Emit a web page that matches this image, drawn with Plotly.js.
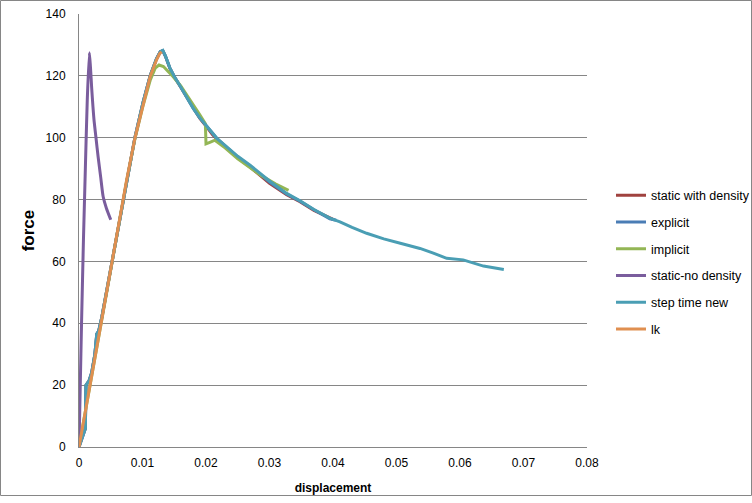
<!DOCTYPE html>
<html>
<head>
<meta charset="utf-8">
<script src="https://cdn.plot.ly/plotly-3.0.1.min.js"></script>
<style>
html,body{margin:0;padding:0;background:#fff;}
#chart{width:752px;height:503px;}
</style>
</head>
<body>
<div id="chart"></div>
<script>
// ---- data ----
var seriesNames = ["static with density", "explicit", "implicit", "static-no density", "step time new", "lk"];

var staticDensityX = [0, 0.0009, 0.001, 0.0011, 0.0016, 0.002, 0.0025, 0.0028, 0.0031, 0.0036, 0.005, 0.0075, 0.0088, 0.0101, 0.0112, 0.0122, 0.0128, 0.0132, 0.0136, 0.0143, 0.015, 0.016, 0.017, 0.018, 0.019, 0.02, 0.021, 0.0217, 0.023, 0.025, 0.027, 0.0285, 0.03, 0.0327, 0.0348, 0.037, 0.0395, 0.0402];
var staticDensityY = [0, 5, 6, 20, 21.5, 24, 30, 36.5, 37.5, 42, 57.5, 86, 100, 111.5, 120, 125.5, 127.8, 128.1, 126.4, 122.5, 119.7, 116.4, 112.9, 109.4, 106.3, 103.8, 101, 99.6, 97.2, 93.6, 90.4, 87.8, 85.3, 81.6, 79.3, 76.5, 73.9, 73.4];

var explicitX = [0, 0.0009, 0.001, 0.0011, 0.0016, 0.002, 0.0025, 0.0028, 0.0031, 0.0036, 0.005, 0.0075, 0.0088, 0.0101, 0.0112, 0.0122, 0.0128, 0.0132, 0.0136, 0.0143, 0.015, 0.016, 0.017, 0.018, 0.019, 0.02, 0.021, 0.0217, 0.023, 0.025, 0.027, 0.0285, 0.03, 0.0327, 0.0348, 0.037, 0.0395, 0.0405];
var explicitY = [0, 5, 6, 20, 21.5, 24, 30, 36.5, 37.5, 42, 57.5, 86, 100, 111.5, 120, 125.5, 127.8, 128.2, 126.5, 122.6, 119.8, 116.5, 113, 109.5, 106.5, 104, 101.2, 99.8, 97.4, 93.8, 90.7, 88.2, 85.7, 81.8, 79.5, 76.7, 73.8, 73.3];

var implicitX = [0, 0.002, 0.004, 0.006, 0.0075, 0.0088, 0.0101, 0.0112, 0.012, 0.0126, 0.0133, 0.014, 0.0148, 0.016, 0.017, 0.018, 0.019, 0.0199, 0.02, 0.0206, 0.0214, 0.023, 0.025, 0.0285, 0.031, 0.033];
var implicitY = [0, 23, 46, 69, 86, 99.5, 110.5, 118.5, 122.5, 123.5, 123, 121.5, 119.8, 116.8, 113.8, 110.6, 107.5, 104.5, 98, 98.5, 99.2, 96.7, 93.2, 88, 85, 83];

var staticNoDensityX = [0, 0.0002, 0.0004, 0.0007, 0.001, 0.0013, 0.00163, 0.0018, 0.002, 0.0022, 0.0024, 0.0027, 0.003, 0.0034, 0.0038, 0.0043, 0.005];
var staticNoDensityY = [0, 20, 40, 67, 90, 112, 127.5, 123, 116, 110, 105, 99.5, 94, 87.5, 81, 77.3, 73.5];

var stepTimeX = [0, 0.0009, 0.001, 0.0011, 0.0016, 0.002, 0.0025, 0.0028, 0.0031, 0.0036, 0.005, 0.0075, 0.0088, 0.0101, 0.0112, 0.0122, 0.0128, 0.0132, 0.0136, 0.0143, 0.015, 0.016, 0.017, 0.018, 0.019, 0.02, 0.021, 0.0217, 0.023, 0.025, 0.027, 0.0285, 0.03, 0.0327, 0.0348, 0.037, 0.0395, 0.0411, 0.043, 0.0453, 0.048, 0.0506, 0.0537, 0.0558, 0.0579, 0.0605, 0.062, 0.0637, 0.0669];
var stepTimeY = [0, 5, 6, 20, 21.5, 24, 30, 36.5, 37.5, 42, 57.5, 86, 100, 111.5, 120, 125.5, 127.8, 128.2, 126.5, 122.6, 119.8, 116.5, 113, 109.5, 106.5, 104, 101.2, 99.8, 97.5, 94, 91, 88.5, 86, 82, 79.6, 76.8, 74, 72.8, 71, 69.1, 67.3, 65.9, 64.2, 62.7, 61, 60.5, 59.6, 58.5, 57.4];

var lkX = [0, 0.002, 0.004, 0.006, 0.0075, 0.0088, 0.0101, 0.0112, 0.0122, 0.0127, 0.013];
var lkY = [0, 23, 46, 69, 86.3, 99.8, 111, 119.7, 125.1, 127.2, 127.8];

var xTickVals = [0, 0.01, 0.02, 0.03, 0.04, 0.05, 0.06, 0.07, 0.08];
var xTickText = ["0", "0.01", "0.02", "0.03", "0.04", "0.05", "0.06", "0.07", "0.08"];
var yTickVals = [0, 20, 40, 60, 80, 100, 120, 140];

// ---- styling ----
var colors = ["#A0423F", "#4A7DB5", "#93B655", "#7A5D9D", "#4A9EB4", "#E08F50"];
var shapes = ["linear", "linear", "linear", "spline", "linear", "linear"];
var xs = [staticDensityX, explicitX, implicitX, staticNoDensityX, stepTimeX, lkX];
var ys = [staticDensityY, explicitY, implicitY, staticNoDensityY, stepTimeY, lkY];

var traces = seriesNames.map(function (name, i) {
  return {
    type: "scatter",
    mode: "lines",
    name: name,
    legendgroup: "g" + i,
    x: xs[i],
    y: ys[i],
    line: {color: colors[i], width: 3, shape: shapes[i], smoothing: 0.6},
    hoverinfo: "x+y+name"
  };
});

var FONT = "Liberation Sans, Arial, sans-serif";
var L = 79, R = 587, T = 14, B = 447, W = 752, H = 503;
var pw = R - L, ph = B - T;
function px2x(p) { return (p - L) / pw; }
function px2y(p) { return (B - p) / ph; }

var layout = {
  width: W,
  height: H,
  margin: {l: L, r: W - R, t: T, b: H - B, pad: 0, autoexpand: false},
  paper_bgcolor: "#ffffff",
  plot_bgcolor: "#ffffff",
  font: {family: FONT, size: 12, color: "#000000"},
  showlegend: true,
  legend: {
    xref: "container", yref: "container",
    x: 611 / W, xanchor: "left",
    y: 1 - 262 / H, yanchor: "middle",
    font: {family: FONT, size: 12.5, color: "#000000"},
    tracegroupgap: 7.5,
    bgcolor: "rgba(0,0,0,0)",
    borderwidth: 0
  },
  xaxis: {
    range: [0, 0.08],
    tickvals: xTickVals,
    ticktext: xTickText,
    showgrid: false,
    zeroline: false,
    showline: true,
    linecolor: "#868686",
    linewidth: 1,
    ticks: "",
    ticklabelstandoff: 5,
    automargin: false,
    tickfont: {family: FONT, size: 12, color: "#000"},
    title: {text: "<b>displacement</b>", font: {family: FONT, size: 12, color: "#000"}, standoff: 14}
  },
  yaxis: {
    range: [0, 140],
    tickvals: yTickVals,
    showgrid: true,
    gridcolor: "#868686",
    gridwidth: 1,
    zeroline: false,
    showline: true,
    linecolor: "#868686",
    linewidth: 1,
    ticks: "",
    ticklabelstandoff: 10,
    automargin: false,
    tickfont: {family: FONT, size: 12, color: "#000"},
    title: {text: "<b>force</b>", font: {family: FONT, size: 17, color: "#000"}, standoff: 6}
  },
  shapes: [{
    type: "rect", xref: "paper", yref: "paper", layer: "above",
    x0: px2x(0.5), x1: px2x(751.5), y0: px2y(0.5), y1: px2y(495.5),
    line: {color: "#868686", width: 1}
  }]
};

Plotly.newPlot("chart", traces, layout, {displayModeBar: false, staticPlot: true});
</script>
</body>
</html>
